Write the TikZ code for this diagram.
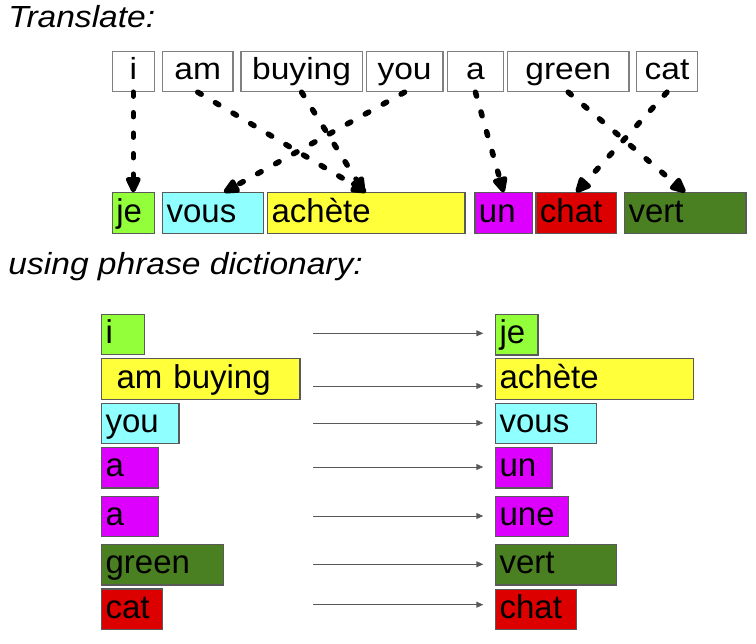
\documentclass[tikz,border=0pt]{standalone}
\usepackage{fontspec}
\setmainfont{Liberation Sans}
\newfontfamily\widesans{Liberation Sans}[FakeStretch=1.1]
\usetikzlibrary{arrows.meta}

\definecolor{wlime}{RGB}{146,255,58}
\definecolor{wcyan}{RGB}{143,255,255}
\definecolor{wyellow}{RGB}{255,255,58}
\definecolor{wmagenta}{RGB}{221,0,255}
\definecolor{wred}{RGB}{221,0,0}
\definecolor{wdkgreen}{RGB}{74,127,34}
\definecolor{wframe}{RGB}{128,128,128}
\definecolor{cframe}{RGB}{90,90,90}

\tikzset{
  heading/.style={anchor=base west, inner sep=0pt,
    font=\widesans\itshape\fontsize{30.5}{36}\selectfont},
  word/.style={draw=wframe, line width=1.2pt, fill=white, anchor=north west,
    inner sep=0pt, minimum height=40.3pt, text height=22pt, text depth=6pt,
    font=\widesans\fontsize{30.5}{36}\selectfont},
  chip/.style={draw=cframe, line width=1.2pt, anchor=north west, align=left,
    inner xsep=4pt, inner ysep=0pt, minimum height=40.4pt,
    text height=24pt, text depth=6pt, font=\fontsize{33}{40}\selectfont},
  link/.style={line width=5.5pt, line cap=round, dash pattern=on 4pt off 16.5pt,
    -{Triangle[length=19pt,width=16pt,round]}},
  rule/.style={line width=0.9pt, black!65,
    -{Triangle[length=7pt,width=6pt]}},
}

\begin{document}
\begin{tikzpicture}[x=1pt,y=-1pt]
\useasboundingbox (0,0) rectangle (756,644);

% headings
\node[heading] (h1) at (8.3,27.3) {Translate:};
\node[heading] (h2) at (8.3,275) {using phrase dictionary:};

% English sentence
\node[word, minimum width=42pt]    (i)      at (111.7,50.7) {i};
\node[word, minimum width=70.3pt]  (am)     at (162,50.7)   {am};
\node[word, minimum width=121.4pt] (buying) at (240.3,50.7) {buying};
\node[word, minimum width=76.6pt]  (you)    at (365.7,50.7) {you};
\node[word, minimum width=56.3pt]  (a)      at (446.7,50.7) {a};
\node[word, minimum width=121.3pt] (green)  at (507,50.7)   {green};
\node[word, minimum width=61.3pt]  (cat)    at (635.7,50.7) {cat};

% French sentence
\node[chip, fill=wlime,    text width=34pt]    (je)   at (111.7,192.3) {je};
\node[chip, fill=wcyan,    text width=92.7pt]  (vous) at (162,192.3)   {vous};
\node[chip, fill=wyellow,  text width=189.3pt] (ach)  at (267,192.3)   {achète};
\node[chip, fill=wmagenta, text width=49.4pt]  (un)   at (474.3,192.3) {un};
\node[chip, fill=wred,     text width=72.7pt]  (chat) at (535.3,192.3) {chat};
\node[chip, fill=wdkgreen, text width=113.3pt] (vert) at (624,192.3)   {vert};

% word alignment
\draw[link] (i.south)      -- (je.north);
\draw[link] (am.south)     -- (ach.north);
\draw[link] (buying.south) -- ([xshift=-2pt]ach.north);
\draw[link] (you.south)    -- ([xshift=11pt]vous.north);
\draw[link] (a.south)      -- (un.north);
\draw[link] (green.south)  -- (vert.north);
\draw[link] (cat.south)    -- (chat.north);

% phrase dictionary: source side
\node[chip, fill=wlime,    text width=34.7pt]  (si)   at (101,313.7) {i};
\node[chip, fill=wyellow,  text width=190.3pt] (sab)  at (101,358.3) {\ am buying};
\node[chip, fill=wcyan,    text width=69.3pt]  (syou) at (101,402.7) {you};
\node[chip, fill=wmagenta, text width=49pt]    (sa1)  at (101,447)   {a};
\node[chip, fill=wmagenta, text width=49pt]    (sa2)  at (101,495.7) {a};
\node[chip, fill=wdkgreen, text width=113.7pt] (sgr)  at (101,544)   {green};
\node[chip, fill=wred,     text width=53pt]    (scat) at (101,588.3) {cat};

% phrase dictionary: target side
\node[chip, fill=wlime,    text width=34.3pt]  (tje)   at (495,314)   {je};
\node[chip, fill=wyellow,  text width=189.7pt] (tach)  at (495,358.3) {achète};
\node[chip, fill=wcyan,    text width=92.7pt]  (tvous) at (495,402.7) {vous};
\node[chip, fill=wmagenta, text width=48.3pt]  (tun)   at (495,447)   {un};
\node[chip, fill=wmagenta, text width=64.7pt]  (tune)  at (495,495.7) {une};
\node[chip, fill=wdkgreen, text width=113pt]   (tvert) at (495,544)   {vert};
\node[chip, fill=wred,     text width=72.7pt]  (tchat) at (495,588.7) {chat};

% dictionary arrows
\foreach \k/\y in {1/333.3, 2/386, 3/423, 4/467, 5/516, 6/564.3, 7/604.7} {
  \coordinate (p\k) at (313.3,\y);
  \coordinate (q\k) at (483.3,\y);
  \draw[rule] (p\k) -- (q\k);
}
\end{tikzpicture}
\end{document}
